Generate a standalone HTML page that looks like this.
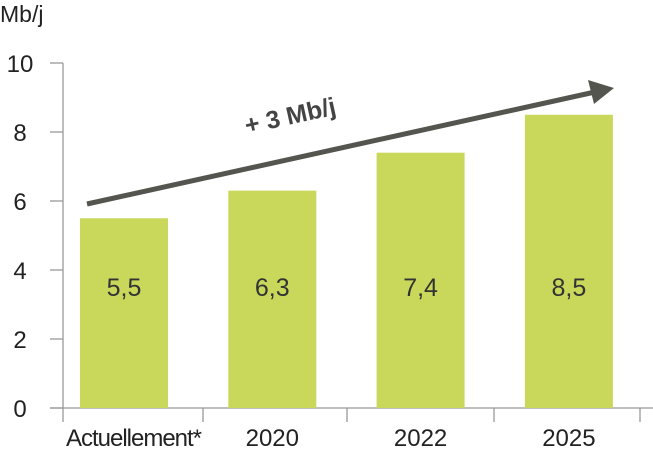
<!DOCTYPE html>
<html><head><meta charset="utf-8"><style>
html,body{margin:0;padding:0;background:#fff;}
svg{display:block;font-family:"Liberation Sans Narrow","Liberation Sans",sans-serif;}
</style></head><body>
<svg id="chart" width="653" height="449" viewBox="0 0 653 449">
<g id="axes"></g><g id="bars"></g>
<text x="0" y="22" font-size="23" fill="#222">Mb/j</text>
<g>
<line x1="87" y1="204" x2="595" y2="92" stroke="#555550" stroke-width="5"/>
<polygon points="614,88 588,80 594,104" fill="#555550"/>
</g>
<text transform="translate(292,124) rotate(-12.5)" text-anchor="middle" font-size="25" font-weight="bold" fill="#444">+ 3 Mb/j</text>
</svg>
<script>
const categories = ["Actuellement*", "2020", "2022", "2025"];
const values = [5.5, 6.3, 7.4, 8.5];
const labels = ["5,5", "6,3", "7,4", "8,5"];
const yTicks = [0, 2, 4, 6, 8, 10];
const NS = "http://www.w3.org/2000/svg";
const y0 = 408, yTop = 63, yMax = 10;
const yScale = v => y0 - (v / yMax) * (y0 - yTop);
const slotLeft = 63, slotW = 144;
const barX = i => 80 + i * 148.3;
const barW = 88;
function mk(tag, attrs, parent) { const e = document.createElementNS(NS, tag); for (const k in attrs) e.setAttribute(k, attrs[k]); parent.appendChild(e); return e; }
const axes = document.getElementById("axes"), bars = document.getElementById("bars");
const ya = mk("line", {x1: 63, y1: yTop, x2: 63, y2: y0, stroke: "#999", "stroke-width": 1.3}, axes);


const xa = mk("line", {x1: 50, y1: y0, x2: 653, y2: y0, stroke: "#999", "stroke-width": 1.3}, axes);


yTicks.forEach(t => {
  const y = yScale(t);
  const tk = mk("line", {x1: 50, y1: y, x2: 63, y2: y, stroke: "#999", "stroke-width": 1.3}, axes);
  
  
  const tl = mk("text", {x: 20, y: y + 9, "text-anchor": "middle", "font-size": 24, fill: "#222"}, axes);
  tl.textContent = t;
  
  
});
const catTicks = [63, 203, 347, 494, 640];
catTicks.forEach(x => {
  const tk = mk("line", {x1: x, y1: y0, x2: x, y2: y0 + 14, stroke: "#999", "stroke-width": 1.3}, axes);
  
  
});
categories.forEach((c, i) => {
  const x = barX(i), top = yScale(values[i]);
  const r = mk("rect", {x: x, y: top, width: barW, height: y0 - top, fill: "#c9d85b"}, bars);
  
  
  const v = mk("text", {x: x + barW / 2, y: 296, "text-anchor": "middle", "font-size": 25, fill: "#333"}, bars);
  v.textContent = labels[i];
  
  
  const cl = mk("text", {x: i === 0 ? 134 : x + barW / 2, y: 446, "text-anchor": "middle", "font-size": 24, fill: "#222"}, bars);
  cl.textContent = c;
  
  
  if (i === 0) cl.setAttribute('textLength', 136);
});
</script>
</body></html>
